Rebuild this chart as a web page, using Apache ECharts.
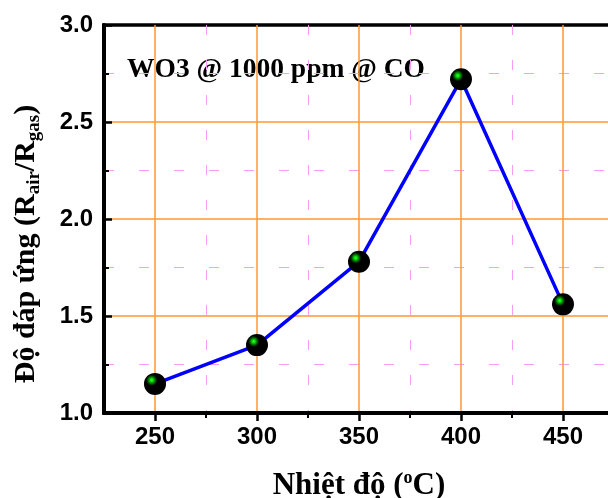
<!DOCTYPE html>
<html>
<head>
<meta charset="utf-8">
<script src="https://cdn.jsdelivr.net/npm/echarts@6/dist/echarts.min.js"></script>
<style>
  html, body { margin: 0; padding: 0; background: #fff; }
  #chart { width: 608px; height: 498px; }
</style>
</head>
<body>
<div id="chart"></div>
<script>
// Operating temperature (°C) and sensor response Rair/Rgas
const temps = [250, 300, 350, 400, 450];
const response = [1.15, 1.35, 1.78, 2.72, 1.56];
const xMajorTicks = [250, 300, 350, 400, 450];
const xMinorTicks = [275, 325, 375, 425];
const yLabelValues = [1.0, 1.5, 2.0, 2.5, 3.0];
const annotation = 'WO3 @ 1000 ppm @ CO';

const sans = 'Liberation Sans, Arial, sans-serif';
const serif = 'Liberation Serif, Times New Roman, serif';
const orange = '#ff9933';
const pink = '#f89cf8';

const chart = echarts.init(document.getElementById('chart'), null, { renderer: 'canvas' });

chart.setOption({
  backgroundColor: '#fff',
  animation: false,
  title: {
    text: annotation,
    left: 122,
    top: 51,
    z: -1,
    textStyle: { fontFamily: serif, fontWeight: 'bold', fontSize: 27.5, color: '#000' }
  },
  grid: {
    left: 104, top: 25, width: 510, height: 388,
    outerBoundsMode: 'none',
    containLabel: false,
    show: true, borderColor: '#000', borderWidth: 3.5, backgroundColor: 'transparent'
  },
  xAxis: [
    {
      // half-step ticks with dashed guide lines
      type: 'value', min: 225, max: 475, position: 'bottom',
      axisLine: { show: true, lineStyle: { color: '#000', width: 4 } },
      axisTick: { show: true, inside: false, length: 5, customValues: xMinorTicks, lineStyle: { color: '#000', width: 2 } },
      axisLabel: { show: false },
      splitLine: { show: true, lineStyle: { color: pink, width: 1, type: [10, 25] } }
    },
    {
      // labelled steps with solid grid lines
      type: 'value', min: 225, max: 475, position: 'bottom',
      axisLine: { show: false },
      axisTick: { show: true, inside: false, length: 8, customValues: xMajorTicks, lineStyle: { color: '#000', width: 2.5 } },
      splitLine: { show: true, lineStyle: { color: orange, width: 1.5 } },
      axisLabel: {
        show: true, margin: 12, color: '#000', customValues: xMajorTicks,
        fontFamily: sans, fontWeight: 'bold', fontSize: 24
      },
      name: 'Nhiệt độ ({sup|o}C)',
      nameLocation: 'middle',
      nameGap: 56,
      nameTextStyle: {
        fontFamily: serif, fontWeight: 'bold', fontSize: 31, color: '#000', lineHeight: 33,
        rich: {
          sup: { fontFamily: serif, fontWeight: 'bold', fontSize: 18, color: '#000', lineHeight: 18, verticalAlign: 'top' }
        }
      }
    }
  ],
  yAxis: {
    type: 'value', min: 1, max: 3, interval: 0.5,
    axisLine: { show: true, lineStyle: { color: '#000', width: 4 } },
    axisTick: { show: true, inside: true, length: 8, lineStyle: { color: '#000', width: 2.5 } },
    minorTick: { show: true, splitNumber: 2, length: 5, lineStyle: { color: '#000', width: 2 } },
    splitLine: { show: true, showMinLine: false, showMaxLine: false, lineStyle: { color: orange, width: 1.5 } },
    minorSplitLine: { show: true, lineStyle: { color: pink, width: 1, type: [10, 25] } },
    axisLabel: {
      margin: 11, color: '#000', fontFamily: sans, fontWeight: 'bold', fontSize: 24,
      formatter: v => (yLabelValues.indexOf(v) >= 0 ? v.toFixed(1) : '')
    },
    name: 'Độ đáp ứng (R{sub|air}/R{sub|gas})',
    nameLocation: 'middle',
    nameGap: 60,
    nameRotate: 90,
    nameTextStyle: {
      fontFamily: serif, fontWeight: 'bold', fontSize: 30, color: '#000', lineHeight: 36,
      padding: [0, 50, 0, 0],
      rich: {
        sub: { fontFamily: serif, fontWeight: 'bold', fontSize: 19, color: '#000', lineHeight: 19, verticalAlign: 'bottom' }
      }
    }
  },
  series: [{
    type: 'line',
    xAxisIndex: 0,
    data: temps.map((t, i) => [t, response[i]]),
    lineStyle: { color: '#0000ff', width: 3.5 },
    symbol: 'circle',
    symbolSize: 22,
    itemStyle: {
      color: {
        type: 'radial', x: 0.35, y: 0.33, r: 0.62,
        colorStops: [
          { offset: 0, color: '#44ff44' },
          { offset: 0.14, color: '#00cc00' },
          { offset: 0.28, color: '#005500' },
          { offset: 0.41, color: '#000000' },
          { offset: 1, color: '#000000' }
        ]
      },
      borderWidth: 0
    },
    z: 5
  }]
});
</script>
</body>
</html>
